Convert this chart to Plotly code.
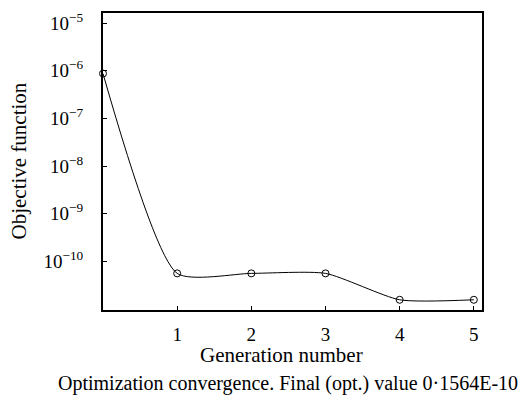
import plotly.graph_objects as go

generations = [0, 1, 2, 3, 4, 5]
objective = [8.7e-7, 5.6e-11, 5.6e-11, 5.6e-11, 1.564e-11, 1.564e-11]

y_tickvals = [1e-5, 1e-6, 1e-7, 1e-8, 1e-9, 1e-10]
y_ticktext = ["10<sup>\u22125</sup>", "10<sup>\u22126</sup>", "10<sup>\u22127</sup>",
              "10<sup>\u22128</sup>", "10<sup>\u22129</sup>", "10<sup>\u221210</sup>"]
x_tickvals = [1, 2, 3, 4, 5]

font_family = "Liberation Serif"

fig = go.Figure()
fig.add_trace(go.Scatter(
    x=generations, y=objective, mode="lines+markers",
    line=dict(color="black", width=1, shape="spline", smoothing=0.6),
    marker=dict(symbol="circle-open", size=7, color="black", line=dict(width=1)),
    showlegend=False, cliponaxis=False,
))

fig.update_layout(
    width=527, height=403,
    margin=dict(l=103, r=45, t=10, b=93),
    paper_bgcolor="white", plot_bgcolor="white",
    font=dict(family=font_family, size=18, color="black"),
    xaxis=dict(range=[0, 5.11], tickvals=x_tickvals, ticks="inside", ticklen=4,
               tickcolor="black", showgrid=False, zeroline=False,
               showline=True, linecolor="black", linewidth=2, mirror=True,
               tickfont=dict(family=font_family, size=19), ticklabelstandoff=6),
    yaxis=dict(type="log", range=[-11.02, -4.79], tickvals=y_tickvals, ticktext=y_ticktext,
               ticks="inside", ticklen=4, tickcolor="black", showgrid=False, zeroline=False,
               showline=True, linecolor="black", linewidth=2, mirror=True,
               tickfont=dict(family=font_family, size=19), ticklabelstandoff=14),
    annotations=[
        dict(text="Generation number", xref="paper", yref="paper", x=0.472, y=0,
             xanchor="center", yanchor="middle", yshift=-45, showarrow=False,
             font=dict(family=font_family, size=21)),
        dict(text="Optimization convergence. Final (opt.) value 0\u00b71564E-10",
             xref="paper", yref="paper", x=0.488, y=0, xanchor="center", yanchor="middle",
             yshift=-73, showarrow=False, font=dict(family=font_family, size=20)),
        dict(text="Objective function", xref="paper", yref="paper", x=0, y=0.5,
             xanchor="center", yanchor="middle", xshift=-85, showarrow=False,
             textangle=-90, font=dict(family=font_family, size=21)),
    ],
)

fig.write_html("out.html")
